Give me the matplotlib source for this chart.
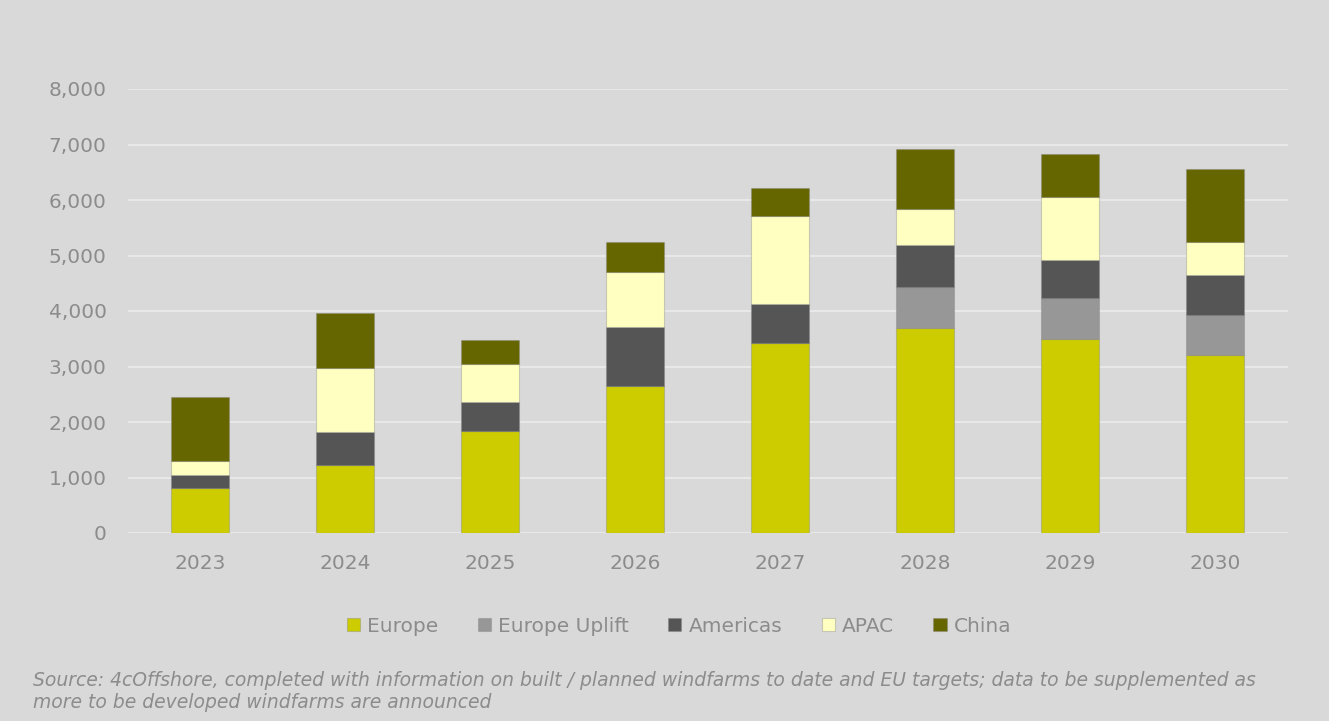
import matplotlib
matplotlib.use("Agg")
import matplotlib.pyplot as plt
import numpy as np

years = ["2023", "2024", "2025", "2026", "2027", "2028", "2029", "2030"]
europe = [815, 1220, 1835, 2640, 3415, 3695, 3490, 3200]
europe_uplift = [0, 0, 0, 0, 0, 740, 740, 725]
americas = [225, 605, 525, 1070, 720, 755, 695, 715]
apac = [260, 1145, 680, 985, 1575, 650, 1125, 605]
china = [1150, 990, 430, 550, 510, 1070, 780, 1320]
yticks = [0, 1000, 2000, 3000, 4000, 5000, 6000, 7000, 8000]

series = [
    ("Europe", europe, "#CCCC00"),
    ("Europe Uplift", europe_uplift, "#979797"),
    ("Americas", americas, "#555555"),
    ("APAC", apac, "#FFFFC1"),
    ("China", china, "#666600"),
]

plt.rcParams['font.family'] = ['DejaVu Sans']
bg = "#D9D9D9"
txt = "#8C8C8C"

fig = plt.figure(figsize=(13.29, 7.21), dpi=100, facecolor=bg)
ax = fig.add_axes([127.5 / 1329, 1 - 533 / 721, 1160 / 1329, 444 / 721])
ax.set_facecolor(bg)

x = np.arange(len(years))
bottom = np.zeros(len(years))
handles = []
for name, vals, col in series:
    v = np.array(vals, dtype=float)
    b = ax.bar(x, v, 0.4, bottom=bottom, color=col, edgecolor=(0.5, 0.5, 0.5, 0.35),
               linewidth=0.8, label=name, zorder=3)
    handles.append(b)
    bottom += v

ax.set_xlim(-0.5, len(years) - 0.5)
ax.set_ylim(0, 8000)
ax.set_yticks(yticks)
ax.set_yticklabels([f"{t:,}" for t in yticks])
ax.set_xticks(x)
ax.set_xticklabels(years)
ax.tick_params(axis='both', length=0, labelsize=14.5, labelcolor=txt)
ax.tick_params(axis='y', pad=15)
ax.tick_params(axis='x', pad=15)
ax.grid(axis='y', color="#E8E8E8", linewidth=1.5, zorder=0)
for s in ax.spines.values():
    s.set_visible(False)

leg = fig.legend(handles=handles, loc='center', bbox_to_anchor=(679 / 1329, 1 - 626 / 721),
                 ncol=5, frameon=False, fontsize=14.5, handlelength=0.66, handleheight=0.66,
                 handletextpad=0.35, columnspacing=1.95, labelcolor=txt)

fig.text(33 / 1329, 1 - 680 / 721,
         "Source: 4cOffshore, completed with information on built / planned windfarms to date and EU targets; data to be supplemented as",
         fontsize=13.5, style='italic', color=txt, va='center', ha='left')
fig.text(33 / 1329, 1 - 703 / 721, "more to be developed windfarms are announced",
         fontsize=13.5, style='italic', color=txt, va='center', ha='left')

fig.savefig("out.png", dpi=100, facecolor=bg)
